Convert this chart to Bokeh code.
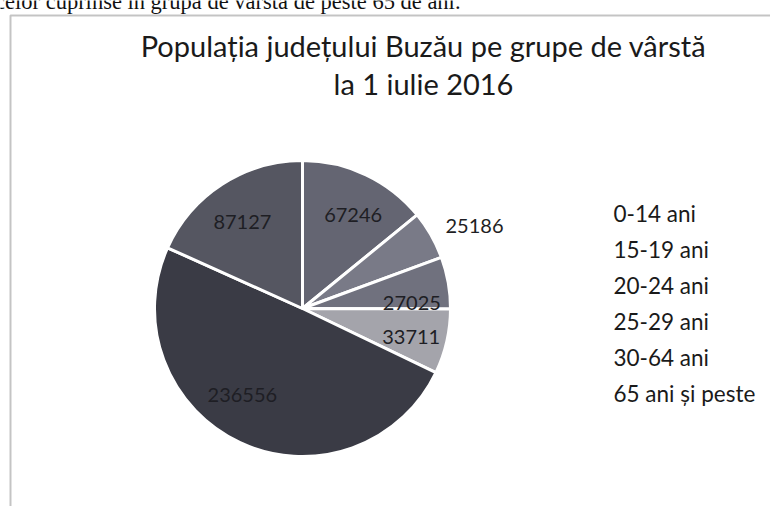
import math
from bokeh.plotting import figure
from bokeh.models import Range1d, ColumnDataSource, BoxAnnotation
from bokeh.core.properties import value
from bokeh.embed import file_html
from bokeh.resources import INLINE

# ---- data ----
categories = ["0-14 ani", "15-19 ani", "20-24 ani", "25-29 ani", "30-64 ani", "65 ani și peste"]
population = [67246, 25186, 27025, 33711, 236556, 87127]
slice_colors = ["#646572", "#797a87", "#70717e", "#a4a4ab", "#3a3b45", "#555661"]
title_lines = ["Populația județului Buzău pe grupe de vârstă", "la 1 iulie 2016"]
page_text = "celor cuprinse în grupa de vârstă de peste 65 de ani."

# ---- layout (pixel coordinates, y measured downwards) ----
W, H = 770, 506
CX, CY, R = 302, 308, 148
label_r = [0.72, 1.29, 0.74, 0.76, 0.71, 0.71]
label_shift_deg = [3, 4, 7, 2, 10, -2]
FONT = "Lato"


def Y(y):
    return H - y


p = figure(width=W, height=H, x_range=Range1d(0, W), y_range=Range1d(0, H),
           output_backend="svg", toolbar_location=None, min_border=0,
           x_axis_location=None, y_axis_location=None)
p.grid.visible = False
p.outline_line_color = None
p.background_fill_color = "white"
p.border_fill_color = "white"

# frame of the chart box (top and left sides visible)
p.add_layout(BoxAnnotation(left=10, right=W + 60, top=Y(15), bottom=-60,
                           fill_alpha=0, line_color="#3c3c3c", line_width=2))

# wedges
total = float(sum(population))
starts, ends, lx, ly = [], [], [], []
cum = 0.0
for i, v in enumerate(population):
    a0 = cum / total * 360.0
    cum += v
    a1 = cum / total * 360.0
    starts.append(math.pi / 2 - math.radians(a0))
    ends.append(math.pi / 2 - math.radians(a1))
    mid = math.radians((a0 + a1) / 2 + label_shift_deg[i])
    lx.append(CX + label_r[i] * R * math.sin(mid))
    ly.append(Y(CY) + label_r[i] * R * math.cos(mid))

src = ColumnDataSource(dict(start=starts, end=ends, color=slice_colors,
                            cat=categories, val=population,
                            lx=lx, ly=ly, txt=[str(v) for v in population]))
p.wedge(x=CX, y=Y(CY), radius=R, start_angle="start", end_angle="end",
        direction="clock", fill_color="color", line_color="white",
        line_width=3, source=src)

p.text(x="lx", y="ly", text="txt", source=src, text_align="center",
       text_baseline="middle", text_font=value(FONT), text_font_size="20px",
       text_color="#1e1e24")

# title
p.text(x=[423, 423], y=[Y(45), Y(83)], text=title_lines, text_align="center",
       text_baseline="alphabetic", text_font=value(FONT), text_font_size="29px",
       text_color="#1a1a1a")

# legend (text only, as in the scan)
p.text(x=[613] * len(categories), y=[Y(213 + 36 * i) for i in range(len(categories))],
       text=categories, text_align="left", text_baseline="middle",
       text_font=value(FONT), text_font_size="22.5px", text_color="#1a1a1a")

# partial sentence of the page above the chart
p.text(x=[460], y=[Y(1)], text=[page_text], text_align="right",
       text_baseline="alphabetic", text_font=value("Liberation Serif"),
       text_font_size="22.5px", text_color="#111111")

open("out.html", "w").write(file_html(p, INLINE))
